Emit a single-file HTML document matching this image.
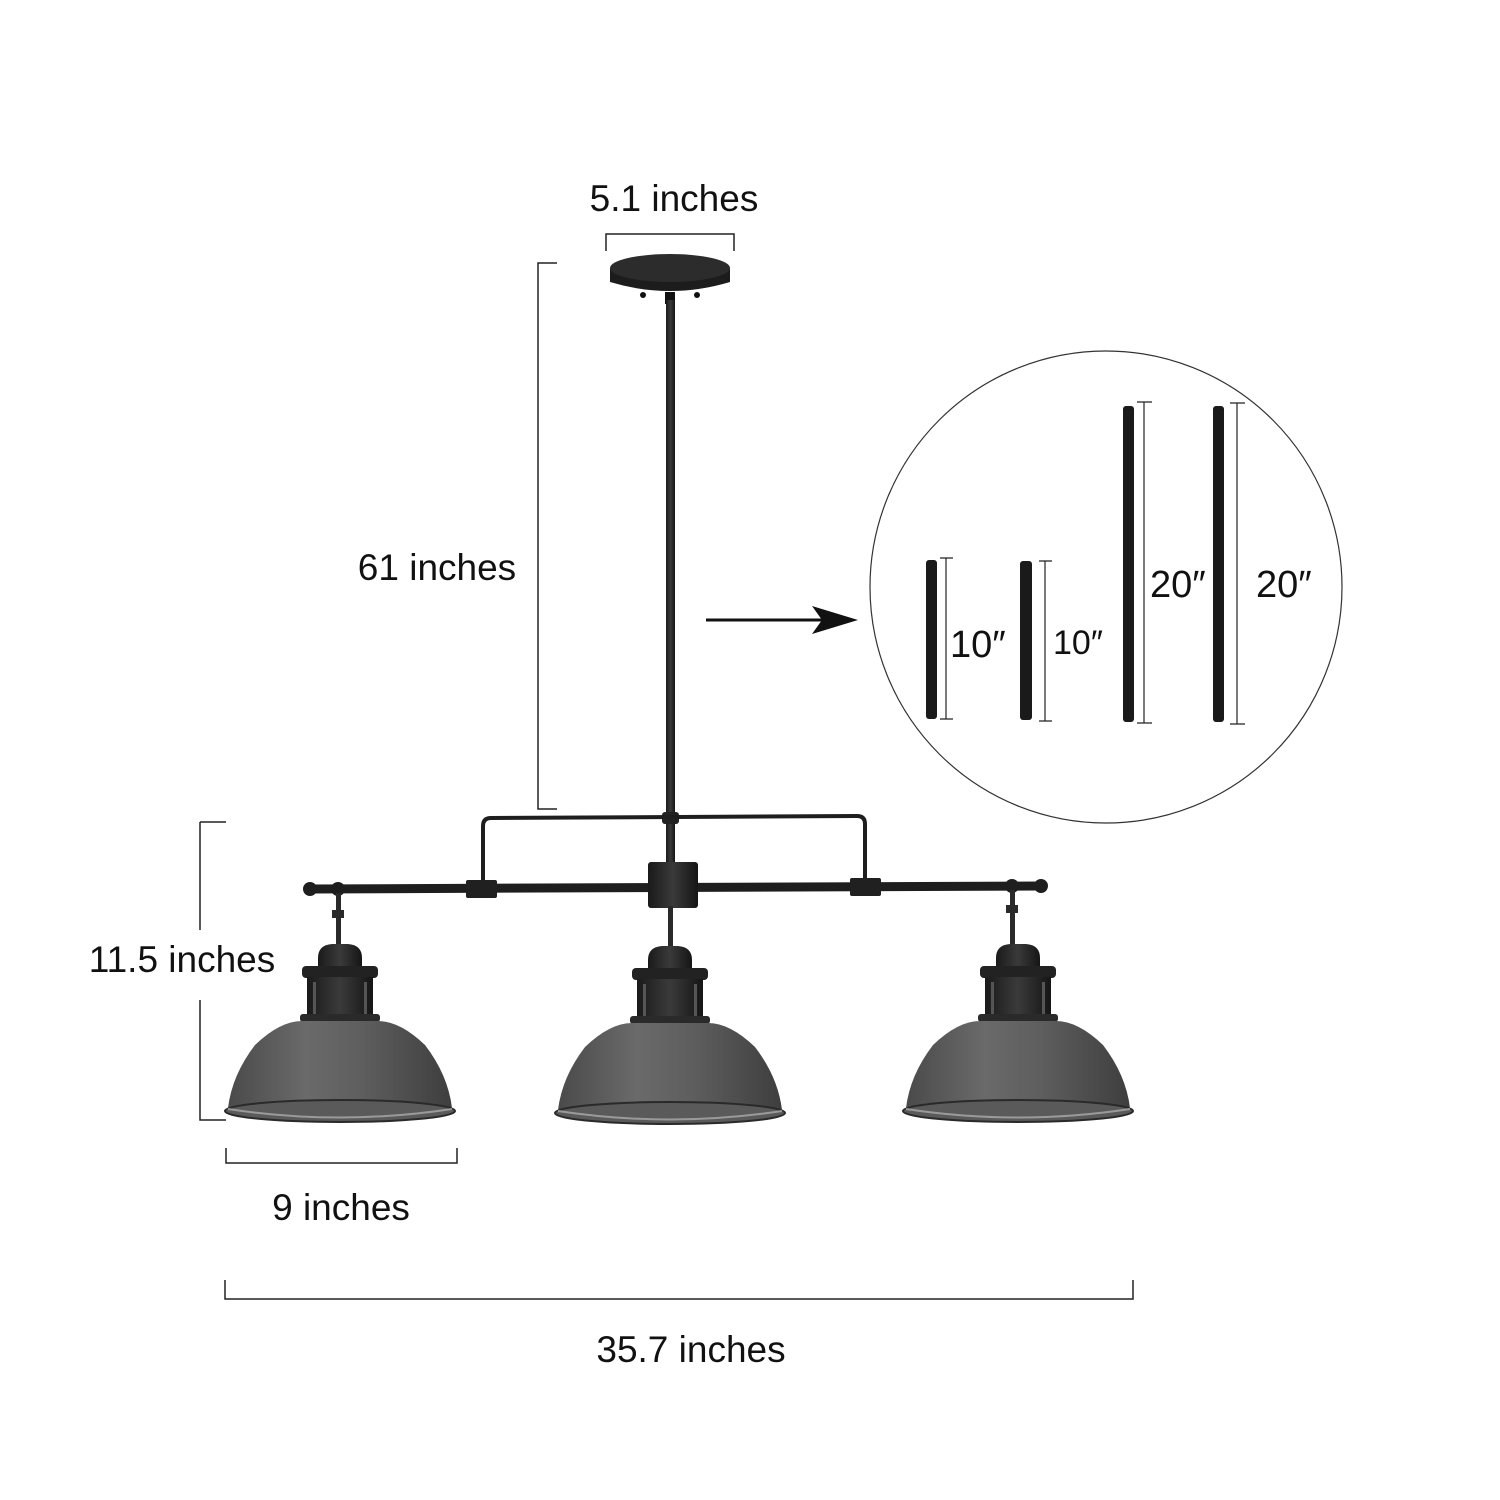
<!DOCTYPE html>
<html><head><meta charset="utf-8"><style>
html,body{margin:0;padding:0;background:#fff}
svg{display:block}
text{font-family:"Liberation Sans",sans-serif;fill:#111}
</style></head><body>
<svg width="1500" height="1500" viewBox="0 0 1500 1500" xmlns="http://www.w3.org/2000/svg">
<defs>
<linearGradient id="shade" x1="0" x2="1" y1="0" y2="0">
<stop offset="0" stop-color="#4a4a4a"/><stop offset="0.35" stop-color="#6a6a6a"/><stop offset="0.6" stop-color="#5e5e5e"/><stop offset="1" stop-color="#3e3e3e"/>
</linearGradient>
<linearGradient id="metal" x1="0" x2="1">
<stop offset="0" stop-color="#1a1a1a"/><stop offset="0.5" stop-color="#3a3a3a"/><stop offset="1" stop-color="#151515"/>
</linearGradient>
<g id="lamp">
<path d="M-22,958 Q-22,945 -8,944 L8,944 Q22,945 22,958 L22,968 L-22,968 Z" fill="url(#metal)"/>
<rect x="-38" y="966" width="76" height="12" rx="4" fill="#222"/>
<rect x="-33" y="977" width="66" height="40" fill="url(#metal)"/>
<rect x="-27" y="982" width="3" height="32" fill="#555"/>
<rect x="24" y="982" width="3" height="32" fill="#555"/>
<rect x="-40" y="1014" width="80" height="8" rx="3" fill="#2a2a2a"/>
<path d="M-38,1021 Q-60,1021 -85,1045 Q-108,1075 -112,1108 L112,1108 Q108,1075 85,1045 Q60,1021 38,1021 Z" fill="url(#shade)"/>
<ellipse cx="0" cy="1111" rx="115" ry="11" fill="#5a5a5a" stroke="#2a2a2a" stroke-width="2"/>
<path d="M-112,1109 Q0,1126 112,1109" fill="none" stroke="#9a9a9a" stroke-width="2"/>
</g>
</defs>

<text x="674" y="211" font-size="37" text-anchor="middle">5.1 inches</text>
<path d="M606,251 V234 H734 V251" fill="none" stroke="#222" stroke-width="1.5"/>

<path d="M557,263 H538 V809 H557" fill="none" stroke="#222" stroke-width="1.5"/>
<text x="437" y="580" font-size="37" text-anchor="middle">61 inches</text>

<path d="M200,822 H226 M200,822 V930 M200,1000 V1120 H226" fill="none" stroke="#222" stroke-width="1.5"/>
<text x="182" y="972" font-size="37" text-anchor="middle">11.5 inches</text>

<path d="M226,1148 V1163 H457 V1148" fill="none" stroke="#222" stroke-width="1.5"/>
<text x="341" y="1220" font-size="37" text-anchor="middle">9 inches</text>

<path d="M225,1280 V1299 H1133 V1280" fill="none" stroke="#222" stroke-width="1.5"/>
<text x="691" y="1362" font-size="37" text-anchor="middle">35.7 inches</text>

<path d="M610,268 V282 Q670,300 730,282 V268 Z" fill="#1c1c1c"/>
<ellipse cx="670" cy="268" rx="60" ry="14" fill="#2c2c2c"/>
<circle cx="643" cy="295" r="3" fill="#111"/><circle cx="697" cy="295" r="3" fill="#111"/>
<rect x="665" y="292" width="10" height="12" fill="#111"/>
<rect x="666" y="300" width="9" height="565" fill="url(#metal)"/>
<rect x="662" y="812" width="17" height="12" rx="3" fill="#222"/>

<path d="M483,885 V826 Q483,818 491,818 L857,816 Q865,816 865,824 V882" fill="none" stroke="#1e1e1e" stroke-width="4"/>
<path d="M310,889 L1040,886" stroke="#1e1e1e" stroke-width="9"/>
<circle cx="310" cy="889" r="7" fill="#1e1e1e"/>
<circle cx="338" cy="889" r="7" fill="#1e1e1e"/>
<circle cx="1012" cy="886" r="7" fill="#1e1e1e"/>
<circle cx="1041" cy="886" r="7" fill="#1e1e1e"/>
<rect x="466" y="880" width="31" height="18" rx="2" fill="#202020"/>
<rect x="850" y="878" width="31" height="18" rx="2" fill="#202020"/>
<rect x="648" y="862" width="50" height="46" rx="3" fill="url(#metal)"/>
<rect x="336" y="893" width="5" height="52" fill="#2a2a2a"/>
<rect x="668" y="906" width="5" height="40" fill="#2a2a2a"/>
<rect x="1010" y="890" width="5" height="55" fill="#2a2a2a"/>
<rect x="332" y="910" width="12" height="8" fill="#2a2a2a"/>
<rect x="1006" y="905" width="12" height="8" fill="#2a2a2a"/>

<use href="#lamp" transform="translate(340,0)"/>
<use href="#lamp" transform="translate(670,2)"/>
<use href="#lamp" transform="translate(1018,0)"/>

<line x1="706" y1="620" x2="830" y2="620" stroke="#111" stroke-width="3"/>
<path d="M858,620 L812,606 L822,620 L812,634 Z" fill="#111"/>

<circle cx="1106" cy="587" r="236" fill="none" stroke="#333" stroke-width="1.2"/>
<g fill="#1a1a1a">
<rect x="926" y="560" width="11" height="159" rx="3"/>
<rect x="1020" y="561" width="12" height="159" rx="3"/>
<rect x="1123" y="406" width="11" height="316" rx="3"/>
<rect x="1213" y="406" width="11" height="316" rx="3"/>
</g>
<g stroke="#222" stroke-width="1.2" fill="none">
<path d="M940,558 H953 M946,558 V719 M940,719 H953"/>
<path d="M1039,561 H1052 M1045,561 V721 M1039,721 H1052"/>
<path d="M1137,402 H1152 M1144,402 V723 M1137,723 H1152"/>
<path d="M1230,403 H1245 M1237,403 V724 M1230,724 H1245"/>
</g>
<text x="950" y="657" font-size="38">10″</text>
<text x="1053" y="654" font-size="34">10″</text>
<text x="1150" y="597" font-size="38">20″</text>
<text x="1256" y="597" font-size="38">20″</text>
</svg>
</body></html>
